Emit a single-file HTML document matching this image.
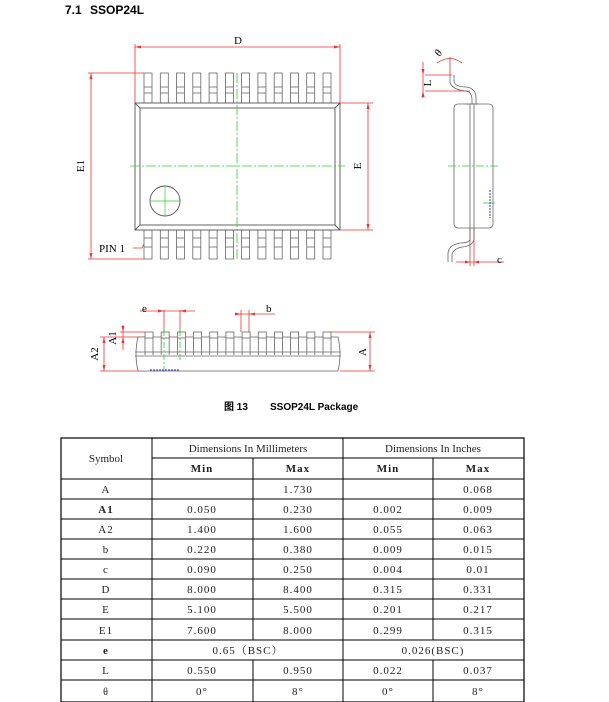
<!DOCTYPE html>
<html><head><meta charset="utf-8"><style>
html,body{margin:0;padding:0;background:#fff;width:609px;height:702px;overflow:hidden}
svg{display:block}
.s{font-family:"Liberation Serif","Noto Serif CJK SC",serif}
.b{font-family:"Liberation Sans","Noto Sans CJK SC",sans-serif;font-weight:bold}
</style></head><body>
<svg width="609" height="702" viewBox="0 0 609 702" xmlns="http://www.w3.org/2000/svg">
<defs>
<g id="tl" fill="#fff" stroke="#666" stroke-width="0.8"><rect x="0" y="73" width="8" height="30"/><line x1="0" y1="87" x2="8" y2="87"/><line x1="0" y1="93" x2="8" y2="93"/></g>
<g id="bl" fill="#fff" stroke="#666" stroke-width="0.8"><rect x="0" y="230" width="8" height="29"/><line x1="0" y1="238" x2="8" y2="238"/><line x1="0" y1="247" x2="8" y2="247"/></g>
<g id="sl" fill="none" stroke="#666" stroke-width="0.8"><rect x="0" y="332" width="8" height="6" fill="#fff"/><line x1="0" y1="338" x2="0" y2="355"/><line x1="8" y1="338" x2="8" y2="355"/></g>
</defs>
<text x="65" y="14" class="b" font-size="12">7.1</text><text x="90" y="14" class="b" font-size="12">SSOP24L</text>

<!-- top view -->
<g stroke="#e33" stroke-width="0.8" fill="none">
<line x1="135" y1="47" x2="340" y2="47"/><line x1="135" y1="44" x2="135" y2="103"/><line x1="340" y1="44" x2="340" y2="103"/>
<line x1="88" y1="73" x2="144" y2="73"/><line x1="88" y1="259" x2="144" y2="259"/><line x1="91" y1="73" x2="91" y2="259"/>
<line x1="340" y1="103" x2="373" y2="103"/><line x1="340" y1="230" x2="373" y2="230"/><line x1="368" y1="103" x2="368" y2="230"/>
<polyline points="158,214 142,248 133,248"/>
</g>
<g fill="#e33">
<polygon points="135,47 141,45.5 141,48.5"/><polygon points="340,47 334,45.5 334,48.5"/>
<polygon points="91,73 89.5,79 92.5,79"/><polygon points="91,259 89.5,253 92.5,253"/>
<polygon points="368,103 366.5,109 369.5,109"/><polygon points="368,230 366.5,224 369.5,224"/>
</g>
<g>
<use href="#tl" x="144"/><use href="#tl" x="160.3"/><use href="#tl" x="176.5"/><use href="#tl" x="192.8"/><use href="#tl" x="209.1"/><use href="#tl" x="225.4"/><use href="#tl" x="241.6"/><use href="#tl" x="257.9"/><use href="#tl" x="274.2"/><use href="#tl" x="290.4"/><use href="#tl" x="306.7"/><use href="#tl" x="323"/>
<use href="#bl" x="144"/><use href="#bl" x="160.3"/><use href="#bl" x="176.5"/><use href="#bl" x="192.8"/><use href="#bl" x="209.1"/><use href="#bl" x="225.4"/><use href="#bl" x="241.6"/><use href="#bl" x="257.9"/><use href="#bl" x="274.2"/><use href="#bl" x="290.4"/><use href="#bl" x="306.7"/><use href="#bl" x="323"/>
</g>
<g fill="#fff" stroke="#555" stroke-width="0.9">
<rect x="135" y="103" width="205" height="127"/>
<rect x="140" y="108" width="195" height="117" fill="none"/>
<line x1="135" y1="103" x2="140" y2="108"/><line x1="340" y1="103" x2="335" y2="108"/><line x1="135" y1="230" x2="140" y2="225"/><line x1="340" y1="230" x2="335" y2="225"/>
<circle cx="165" cy="201" r="15"/>
</g>
<g stroke="#3c3" stroke-width="0.8" stroke-dasharray="10,2,2,2">
<line x1="237" y1="73" x2="237" y2="260"/><line x1="130" y1="166" x2="345" y2="166"/>
</g>
<g stroke="#3c3" stroke-width="0.7"><line x1="165" y1="186" x2="165" y2="216"/><line x1="150" y1="201" x2="180" y2="201"/></g>
<text x="238" y="44" class="s" font-size="11" text-anchor="middle">D</text>
<text x="84" y="166" class="s" font-size="11" text-anchor="middle" transform="rotate(-90 84 166)">E1</text>
<text x="361" y="166" class="s" font-size="11" text-anchor="middle" transform="rotate(-90 361 166)">E</text>
<text x="99" y="252" class="s" font-size="11">PIN 1</text>

<!-- side view -->
<g stroke="#e33" stroke-width="0.8" fill="none">
<line x1="425" y1="75" x2="452" y2="75"/><line x1="425" y1="91" x2="470" y2="91"/>
<line x1="423" y1="62" x2="423" y2="98"/>
<path d="M437 63 Q450 54 462 63"/><line x1="450" y1="57" x2="450" y2="75"/>
<line x1="470" y1="228" x2="470" y2="266"/><line x1="474" y1="228" x2="474" y2="266"/>
<line x1="456" y1="262" x2="504" y2="262"/>
</g>
<g fill="#e33"><polygon points="423,75 421.5,69 424.5,69"/><polygon points="423,91 421.5,97 424.5,97"/><polygon points="470,262 465,260.5 465,263.5"/><polygon points="474,262 479,260.5 479,263.5"/></g>
<g stroke="#666" stroke-width="0.8" fill="none">
<path d="M450 75 L450 82 Q452 90 466 91 Q472 92 472 100 L472 104"/>
<path d="M454 75 L454 82 Q456 87 466 87 Q476 88 476 98 L476 104"/>
<rect x="454" y="104" width="39" height="124" rx="4" fill="#fff"/>
<line x1="470" y1="104" x2="470" y2="240"/><line x1="474" y1="104" x2="474" y2="240"/>
<line x1="466" y1="104" x2="478" y2="104"/>
<path d="M474 240 Q472 246 462 247 Q452 249 452 256 L452 262"/>
<path d="M470 240 Q468 243 460 243 Q448 245 448 254 L448 262"/>
</g>
<g stroke="#3c3" stroke-width="0.8" stroke-dasharray="8,2,2,2"><line x1="448" y1="166" x2="498" y2="166"/></g>
<line x1="483" y1="203" x2="495" y2="203" stroke="#3c3" stroke-width="0.8"/>
<line x1="490" y1="190" x2="490" y2="218" stroke="#33c" stroke-width="1" stroke-dasharray="2,1"/>
<text x="431" y="83" class="s" font-size="11" text-anchor="middle" transform="rotate(-90 431 83)">L</text>
<text x="440" y="57" class="s" font-size="11" font-style="italic" transform="rotate(-60 440 57)">θ</text>
<text x="497" y="263" class="s" font-size="11">c</text>

<!-- bottom view -->
<g stroke="#e33" stroke-width="0.8" fill="none">
<line x1="100" y1="337" x2="145" y2="337"/><line x1="100" y1="371" x2="145" y2="371"/><line x1="104" y1="337" x2="104" y2="371"/>
<line x1="123" y1="325" x2="123" y2="350"/><line x1="120" y1="332" x2="145" y2="332"/>
<line x1="330" y1="332" x2="375" y2="332"/><line x1="340" y1="371" x2="375" y2="371"/><line x1="370" y1="332" x2="370" y2="371"/>
<line x1="140" y1="311" x2="195" y2="311"/><line x1="164" y1="310" x2="164" y2="332"/><line x1="180" y1="310" x2="180" y2="332"/>
<line x1="235" y1="314" x2="275" y2="314"/><line x1="241" y1="310" x2="241" y2="332"/><line x1="249" y1="310" x2="249" y2="332"/>
</g>
<g fill="#e33">
<polygon points="104,337 102.5,343 105.5,343"/><polygon points="104,371 102.5,365 105.5,365"/>
<polygon points="123,332 121.5,326 124.5,326"/><polygon points="123,337 121.5,343 124.5,343"/>
<polygon points="370,332 368.5,338 371.5,338"/><polygon points="370,371 368.5,365 371.5,365"/>
<polygon points="164,311 158,309.5 158,312.5"/><polygon points="180,311 186,309.5 186,312.5"/>
<polygon points="241,314 235,312.5 235,315.5"/><polygon points="249,314 255,312.5 255,315.5"/>
</g>
<g stroke="#666" stroke-width="0.8" fill="none">
<path d="M138 337 Q134 354 138 371 L338 371 Q342 354 338 337 Z" fill="#fff"/>
<line x1="135" y1="352" x2="341" y2="352"/><line x1="135" y1="356" x2="341" y2="356"/>
</g>
<g>
<use href="#sl" x="145"/><use href="#sl" x="161.2"/><use href="#sl" x="177.4"/><use href="#sl" x="193.5"/><use href="#sl" x="209.7"/><use href="#sl" x="225.9"/><use href="#sl" x="242.1"/><use href="#sl" x="258.3"/><use href="#sl" x="274.5"/><use href="#sl" x="290.6"/><use href="#sl" x="306.8"/><use href="#sl" x="323"/>
</g>
<g stroke="#3c3" stroke-width="0.8" stroke-dasharray="6,2,2,2"><line x1="164" y1="330" x2="164" y2="374"/><line x1="180" y1="330" x2="180" y2="360"/></g>
<line x1="150" y1="370" x2="180" y2="370" stroke="#33c" stroke-width="1" stroke-dasharray="2,1"/>
<text x="116" y="338" class="s" font-size="11" text-anchor="middle" transform="rotate(-90 116 338)">A1</text>
<text x="98" y="354" class="s" font-size="11" text-anchor="middle" transform="rotate(-90 98 354)">A2</text>
<text x="366" y="352" class="s" font-size="11" text-anchor="middle" transform="rotate(-90 366 352)">A</text>
<text x="142" y="312" class="s" font-size="11">e</text>
<text x="266" y="312" class="s" font-size="11">b</text>

<text x="224" y="410" class="b" font-size="10">图 13</text>
<text x="270" y="410" class="b" font-size="10">SSOP24L Package</text>

<!-- table -->
<g stroke="#000" fill="none">
<rect x="61" y="438" width="463" height="264" stroke-width="1.2"/>
<g stroke-width="1">
<line x1="152" y1="438" x2="152" y2="702"/><line x1="343" y1="438" x2="343" y2="702"/>
<line x1="253" y1="458" x2="253" y2="640"/><line x1="253" y1="660" x2="253" y2="702"/>
<line x1="433" y1="458" x2="433" y2="640"/><line x1="433" y1="660" x2="433" y2="702"/>
<line x1="152" y1="458" x2="524" y2="458"/>
<line x1="61" y1="479" x2="524" y2="479"/><line x1="61" y1="499" x2="524" y2="499"/><line x1="61" y1="519" x2="524" y2="519"/><line x1="61" y1="539" x2="524" y2="539"/><line x1="61" y1="559" x2="524" y2="559"/><line x1="61" y1="579" x2="524" y2="579"/><line x1="61" y1="599" x2="524" y2="599"/><line x1="61" y1="619" x2="524" y2="619"/><line x1="61" y1="640" x2="524" y2="640"/><line x1="61" y1="660" x2="524" y2="660"/><line x1="61" y1="680" x2="524" y2="680"/>
</g>
</g>
<g class="s" font-size="11" text-anchor="middle" fill="#222" letter-spacing="1">
<text x="106" y="462" letter-spacing="0">Symbol</text>
<text x="248" y="452" letter-spacing="0">Dimensions In Millimeters</text>
<text x="433" y="452" letter-spacing="0">Dimensions In Inches</text>
<text x="202" y="472" font-weight="bold">Min</text><text x="298" y="472" font-weight="bold">Max</text><text x="388" y="472" font-weight="bold">Min</text><text x="478" y="472" font-weight="bold">Max</text>
<text x="106" y="493">A</text><text x="298" y="493">1.730</text><text x="478" y="493">0.068</text>
<text x="106" y="513" font-weight="bold">A1</text><text x="202" y="513">0.050</text><text x="298" y="513">0.230</text><text x="388" y="513">0.002</text><text x="478" y="513">0.009</text>
<text x="106" y="533">A2</text><text x="202" y="533">1.400</text><text x="298" y="533">1.600</text><text x="388" y="533">0.055</text><text x="478" y="533">0.063</text>
<text x="106" y="553">b</text><text x="202" y="553">0.220</text><text x="298" y="553">0.380</text><text x="388" y="553">0.009</text><text x="478" y="553">0.015</text>
<text x="106" y="573">c</text><text x="202" y="573">0.090</text><text x="298" y="573">0.250</text><text x="388" y="573">0.004</text><text x="478" y="573">0.01</text>
<text x="106" y="593">D</text><text x="202" y="593">8.000</text><text x="298" y="593">8.400</text><text x="388" y="593">0.315</text><text x="478" y="593">0.331</text>
<text x="106" y="613">E</text><text x="202" y="613">5.100</text><text x="298" y="613">5.500</text><text x="388" y="613">0.201</text><text x="478" y="613">0.217</text>
<text x="106" y="634">E1</text><text x="202" y="634">7.600</text><text x="298" y="634">8.000</text><text x="388" y="634">0.299</text><text x="478" y="634">0.315</text>
<text x="106" y="654" font-weight="bold">e</text><text x="248" y="654">0.65（BSC）</text><text x="433" y="654">0.026(BSC)</text>
<text x="106" y="674">L</text><text x="202" y="674">0.550</text><text x="298" y="674">0.950</text><text x="388" y="674">0.022</text><text x="478" y="674">0.037</text>
<text x="106" y="695" font-size="10">θ</text><text x="202" y="695">0°</text><text x="298" y="695">8°</text><text x="388" y="695">0°</text><text x="478" y="695">8°</text>
</g>
</svg>
</body></html>
